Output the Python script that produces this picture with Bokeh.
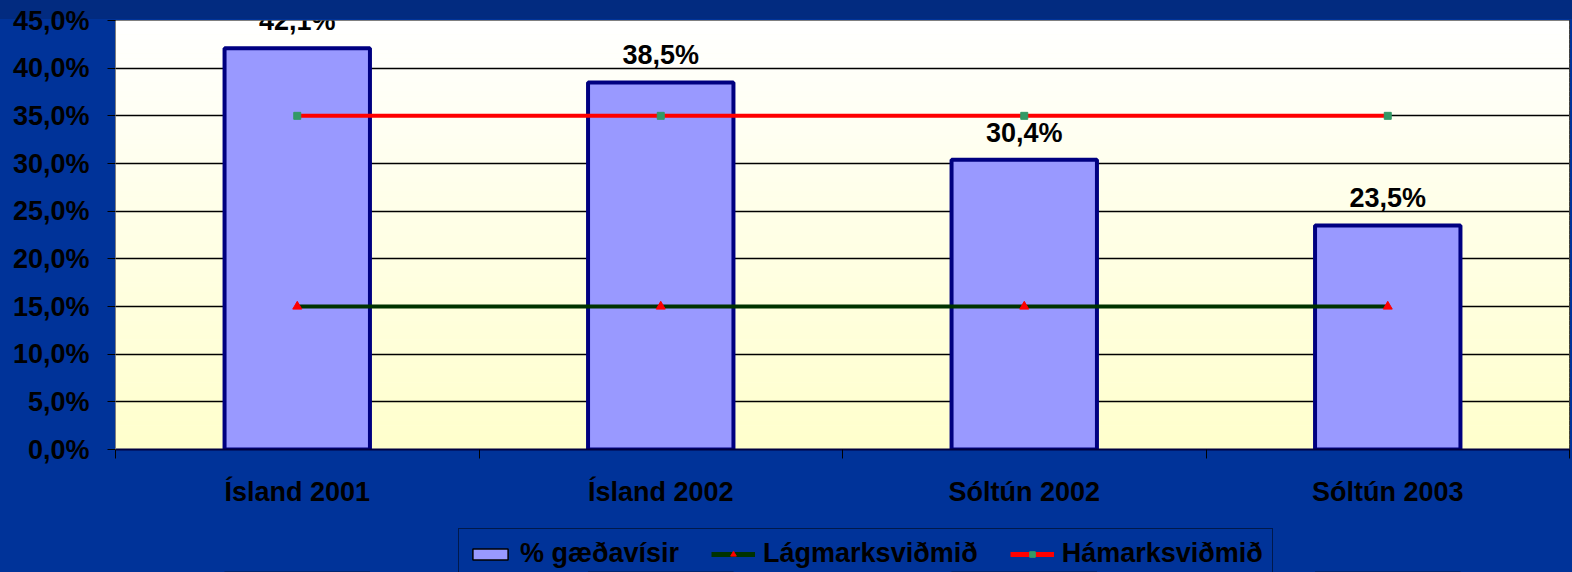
import numpy as np
from bokeh.plotting import figure
from bokeh.layouts import column
from bokeh.models import Range1d, FixedTicker, Legend, LegendItem, ColumnDataSource, LabelSet
from bokeh.core.properties import value
from bokeh.embed import file_html
from bokeh.resources import INLINE

# ---- data ----
categories = ["Ísland 2001", "Ísland 2002", "Sóltún 2002", "Sóltún 2003"]
gaedavisir = [42.1, 38.5, 30.4, 23.5]
lagmarksvidmid = [15.0, 15.0, 15.0, 15.0]
hamarksvidmid = [35.0, 35.0, 35.0, 35.0]
bar_labels = ["42,1%", "38,5%", "30,4%", "23,5%"]
y_ticks = [0, 5, 10, 15, 20, 25, 30, 35, 40, 45]
y_tick_labels = ["0,0%", "5,0%", "10,0%", "15,0%", "20,0%", "25,0%",
                 "30,0%", "35,0%", "40,0%", "45,0%"]
series_names = ["% gæðavísir", "Lágmarksviðmið", "Hámarksviðmið"]

FONT = "Liberation Sans"
FS = "27px"

BAR_FILL, BAR_LINE = "#9999FF", "#000080"
LAG_COLOR, LAG_MARK = "#003300", "#FF0000"
HAM_COLOR, HAM_MARK = "#FF0000", "#339966"

n = len(categories)
xc = list(np.arange(n) + 0.5)

src = ColumnDataSource(dict(x=xc, top=gaedavisir, lab=bar_labels,
                            lag=lagmarksvidmid, ham=hamarksvidmid))

p = figure(width=1572, height=520, x_range=Range1d(0, n), y_range=Range1d(0, 45),
           output_backend="svg", toolbar_location=None,
           min_border_left=115, min_border_right=3, min_border_top=20, min_border_bottom=71,
           border_fill_color=None, background_fill_color="#FFFFE6",
           outline_line_color="black", outline_line_width=1)

# gradient background of the plot area (white at top -> light yellow at bottom)
nb = 90
edges = np.linspace(45, 0, nb + 1)
cols = []
for i in range(nb):
    t = (i + 0.5) / nb
    b = int(round(255 - t * (255 - 204)))
    cols.append("#FFFF%02X" % b)
p.quad(left=0, right=n, top=list(edges[:-1] + 0.05), bottom=list(edges[1:]),
       fill_color=cols, line_color=None, level="image")

# grid
p.xgrid.visible = False
p.ygrid.ticker = FixedTicker(ticks=y_ticks)
p.ygrid.grid_line_color = "black"
p.ygrid.grid_line_width = 1.3

# y axis
p.yaxis.ticker = FixedTicker(ticks=y_ticks)
p.yaxis.major_label_overrides = {t: l for t, l in zip(y_ticks, y_tick_labels)}
p.yaxis.major_label_text_font = FONT
p.yaxis.major_label_text_font_style = "bold"
p.yaxis.major_label_text_font_size = FS
p.yaxis.major_label_text_color = "black"
p.yaxis.major_tick_out = 8
p.yaxis.major_tick_in = 0
p.yaxis.major_tick_line_color = "black"
p.yaxis.minor_tick_line_color = None
p.yaxis.axis_line_color = "#808080"
p.yaxis.major_label_standoff = 18

# x axis
p.xaxis.ticker = FixedTicker(ticks=xc, minor_ticks=list(np.arange(n + 1)))
p.xaxis.major_label_overrides = {x: c for x, c in zip(xc, categories)}
p.xaxis.major_label_text_font = FONT
p.xaxis.major_label_text_font_style = "bold"
p.xaxis.major_label_text_font_size = FS
p.xaxis.major_label_text_color = "black"
p.xaxis.major_tick_out = 0
p.xaxis.major_tick_in = 0
p.xaxis.minor_tick_out = 9
p.xaxis.minor_tick_in = 0
p.xaxis.minor_tick_line_color = "black"
p.xaxis.axis_line_color = "#000040"
p.xaxis.axis_line_width = 2
p.xaxis.major_label_standoff = 18

# bars
p.vbar(x="x", top="top", width=0.4, source=src,
       fill_color=BAR_FILL, line_color=BAR_LINE, line_width=4)

# reference lines
p.line(x="x", y="lag", source=src, line_color=LAG_COLOR, line_width=4)
p.scatter(x="x", y="lag", source=src, marker="triangle", size=9,
          fill_color=LAG_MARK, line_color=LAG_MARK)
p.line(x="x", y="ham", source=src, line_color=HAM_COLOR, line_width=4)
p.scatter(x="x", y="ham", source=src, marker="square", size=7,
          fill_color=HAM_MARK, line_color=HAM_MARK)

# data labels
labels = LabelSet(x="x", y="top", text="lab", source=src, text_align="center",
                  text_baseline="alphabetic", y_offset=18,
                  text_font=value(FONT), text_font_style="bold", text_font_size=value(FS),
                  text_color="black")
p.add_layout(labels)

# ---- legend strip (separate figure under the chart) ----
# its y range lies far above all data values, so the series glyphs stay out of view
# and only serve as legend samples
pl = figure(width=1572, height=52, x_range=Range1d(0, n), y_range=Range1d(1000, 1001),
            output_backend="svg", toolbar_location=None,
            x_axis_location=None, y_axis_location=None,
            min_border_left=115, min_border_right=3, min_border_top=0, min_border_bottom=0,
            border_fill_color=None, background_fill_color=None, outline_line_color=None)
pl.xgrid.visible = False
pl.ygrid.visible = False
sw = pl.vbar(x="x", top="top", width=0.4, source=src, fill_color=BAR_FILL,
             line_color="black", line_width=1.5)
ll = pl.line(x="x", y="lag", source=src, line_color=LAG_COLOR, line_width=5)
lm = pl.scatter(x="x", y="lag", source=src, marker="triangle", size=10,
                fill_color=LAG_MARK, line_color=LAG_MARK)
hl = pl.line(x="x", y="ham", source=src, line_color=HAM_COLOR, line_width=5)
hm = pl.scatter(x="x", y="ham", source=src, marker="square", size=8,
                fill_color=HAM_MARK, line_color=HAM_MARK)

legend = Legend(items=[LegendItem(label=series_names[0], renderers=[sw]),
                       LegendItem(label=series_names[1], renderers=[ll, lm]),
                       LegendItem(label=series_names[2], renderers=[hl, hm])],
                orientation="horizontal", location=(343, -7),
                label_text_font=FONT, label_text_font_style="bold",
                label_text_font_size=FS, label_text_color="black",
                border_line_color="black", border_line_width=1,
                background_fill_alpha=0, glyph_width=44, glyph_height=14,
                label_standoff=8, spacing=32, padding=9, margin=0)
pl.add_layout(legend)

layout = column(p, pl, spacing=0)

template = ("{% block preamble %}<style>"
            "html, body { background: linear-gradient(to bottom, "
            "#022b80 0px, #022b80 19px, #003399 19px, #003399 100%); "
            "background-color: #003399; }</style>{% endblock %}")

open("out.html", "w").write(file_html(layout, INLINE, template=template))
